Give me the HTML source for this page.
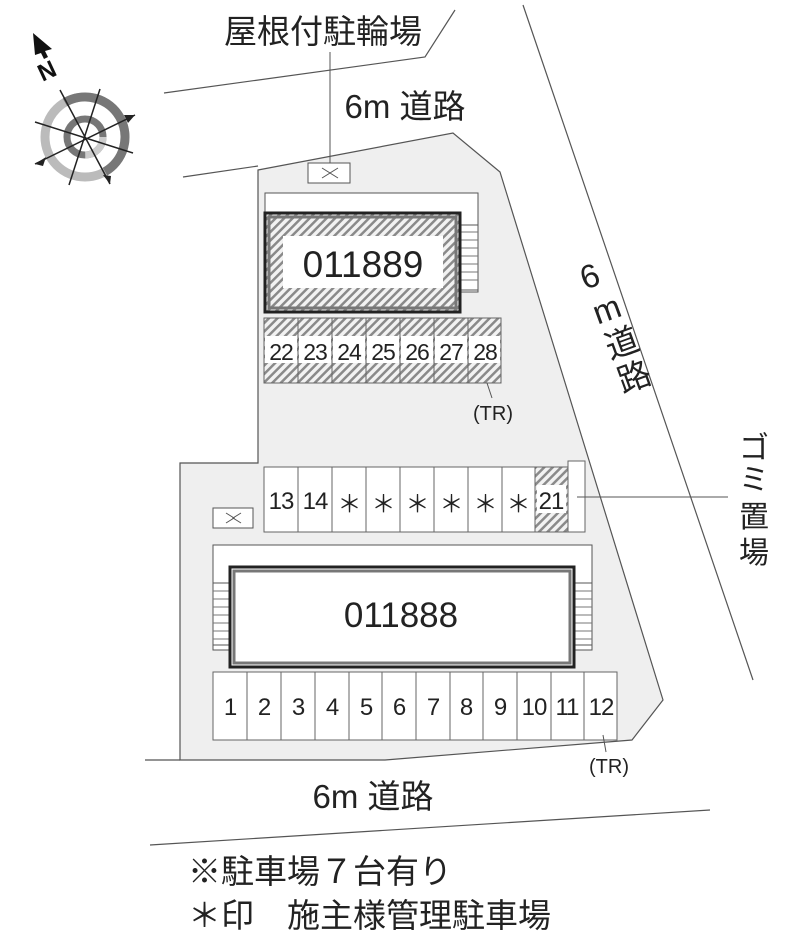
<!DOCTYPE html>
<html><head><meta charset="utf-8"><style>
body{margin:0;background:#fff;width:800px;height:940px;overflow:hidden}
svg text{font-family:"Liberation Sans","Noto Sans CJK JP",sans-serif;fill:#222}
</style></head><body>
<svg width="800" height="940" viewBox="0 0 800 940" xmlns="http://www.w3.org/2000/svg">
<defs>
<pattern id="h" width="6" height="6" patternUnits="userSpaceOnUse" patternTransform="rotate(45)">
<rect width="6" height="6" fill="#f2f2f2"/><rect width="2.5" height="6" fill="#8a8a8a"/></pattern>
</defs>
<polygon points="258,170 453,133 500,172 663,700 632,740 385,760 180,760 180,463 258,463" fill="#efefef" stroke="#555" stroke-width="1.2"/>
<polyline points="164,93 425,57 455,10" fill="none" stroke="#555" stroke-width="1.2"/>
<line x1="183" y1="177" x2="258" y2="166" stroke="#555" stroke-width="1.2"/>
<line x1="523" y1="5" x2="753" y2="680" stroke="#555" stroke-width="1.2"/>
<line x1="145" y1="760" x2="180" y2="760" stroke="#555" stroke-width="1.2"/>
<line x1="150" y1="845" x2="710" y2="810" stroke="#555" stroke-width="1.2"/>
<line x1="330" y1="52" x2="330" y2="170" stroke="#555"/>
<rect x="308" y="163" width="42" height="20" fill="#fff" stroke="#555"/>
<path d="M322,168 l8,5 l-8,5 M338,168 l-8,5 l8,5" stroke="#555" fill="none"/>
<rect x="213" y="508" width="40" height="20" fill="#fff" stroke="#555"/>
<path d="M226,513 l8,5 l-8,5 M241,513 l-8,5 l8,5" stroke="#555" fill="none"/>
<rect x="265" y="193" width="213" height="99" fill="#fff" stroke="#555"/>
<rect x="460" y="225" width="18" height="65" fill="#fff" stroke="#555"/>
<g stroke="#777"><line x1="460" y1="232" x2="478" y2="232"/><line x1="460" y1="240" x2="478" y2="240"/><line x1="460" y1="248" x2="478" y2="248"/><line x1="460" y1="256" x2="478" y2="256"/><line x1="460" y1="264" x2="478" y2="264"/><line x1="460" y1="272" x2="478" y2="272"/><line x1="460" y1="280" x2="478" y2="280"/></g>
<rect x="265" y="213" width="195" height="99" fill="url(#h)" stroke="#222" stroke-width="3"/>
<rect x="269" y="217" width="187" height="91" fill="none" stroke="#777" stroke-width="3"/>
<rect x="283" y="236" width="160" height="52" fill="#fff"/>
<text x="363" y="277" font-size="37" text-anchor="middle">011889</text>
<g stroke="#666" fill="url(#h)">
<rect x="264" y="318" width="34" height="65"/><rect x="298" y="318" width="34" height="65"/><rect x="332" y="318" width="34" height="65"/><rect x="366" y="318" width="34" height="65"/><rect x="400" y="318" width="34" height="65"/><rect x="434" y="318" width="34" height="65"/><rect x="468" y="318" width="33" height="65"/>
</g>
<g fill="#fff"><rect x="265" y="336" width="32" height="27"/><rect x="299" y="336" width="32" height="27"/><rect x="333" y="336" width="32" height="27"/><rect x="367" y="336" width="32" height="27"/><rect x="401" y="336" width="32" height="27"/><rect x="435" y="336" width="32" height="27"/><rect x="469" y="336" width="31" height="27"/></g>
<g font-size="23" text-anchor="middle" letter-spacing="-1"><text x="281" y="360">22</text><text x="315" y="360">23</text><text x="349" y="360">24</text><text x="383" y="360">25</text><text x="417" y="360">26</text><text x="451" y="360">27</text><text x="485" y="360">28</text></g>
<line x1="487" y1="383" x2="492" y2="398" stroke="#555"/>
<text x="493" y="420" font-size="20" text-anchor="middle">(TR)</text>
<g stroke="#666" fill="#fff">
<rect x="264" y="467" width="34" height="65"/><rect x="298" y="467" width="34" height="65"/><rect x="332" y="467" width="34" height="65"/><rect x="366" y="467" width="34" height="65"/><rect x="400" y="467" width="34" height="65"/><rect x="434" y="467" width="34" height="65"/><rect x="468" y="467" width="34" height="65"/><rect x="502" y="467" width="33" height="65"/>
<rect x="535" y="467" width="33" height="65" fill="url(#h)"/>
<rect x="568" y="461" width="17" height="71"/>
</g>
<rect x="537" y="485" width="29" height="28" fill="#fff"/>
<g font-size="24" text-anchor="middle" letter-spacing="-1"><text x="281" y="509">13</text><text x="315" y="509">14</text><text x="349" y="512">＊</text><text x="383" y="512">＊</text><text x="417" y="512">＊</text><text x="451" y="512">＊</text><text x="485" y="512">＊</text><text x="518" y="512">＊</text><text x="551" y="509">21</text></g>
<line x1="577" y1="497" x2="728" y2="497" stroke="#555"/>
<g font-size="30" text-anchor="middle"><text x="754" y="458">ゴ</text><text x="754" y="490">ミ</text><text x="754" y="527">置</text><text x="754" y="563">場</text></g>
<rect x="213" y="545" width="379" height="105" fill="#fff" stroke="#555"/>
<rect x="213" y="583" width="16" height="62" fill="#fff" stroke="#555"/>
<rect x="575" y="583" width="17" height="62" fill="#fff" stroke="#555"/>
<g stroke="#777"><path d="M213,591h16M213,599h16M213,607h16M213,615h16M213,623h16M213,631h16M213,639h16M575,591h17M575,599h17M575,607h17M575,615h17M575,623h17M575,631h17M575,639h17"/></g>
<rect x="230" y="567" width="344" height="100" fill="#fff" stroke="#222" stroke-width="3"/>
<rect x="234" y="571" width="336" height="92" fill="none" stroke="#777" stroke-width="3"/>
<text x="401" y="627" font-size="35" text-anchor="middle">011888</text>
<g stroke="#666" fill="#fff">
<rect x="213" y="672" width="34" height="68"/><rect x="247" y="672" width="34" height="68"/><rect x="281" y="672" width="34" height="68"/><rect x="315" y="672" width="34" height="68"/><rect x="349" y="672" width="33" height="68"/><rect x="382" y="672" width="34" height="68"/><rect x="416" y="672" width="34" height="68"/><rect x="450" y="672" width="33" height="68"/><rect x="483" y="672" width="34" height="68"/><rect x="517" y="672" width="34" height="68"/><rect x="551" y="672" width="33" height="68"/><rect x="584" y="672" width="33" height="68"/>
</g>
<g font-size="24" text-anchor="middle" letter-spacing="-1"><text x="230" y="715">1</text><text x="264" y="715">2</text><text x="298" y="715">3</text><text x="332" y="715">4</text><text x="366" y="715">5</text><text x="399" y="715">6</text><text x="433" y="715">7</text><text x="466" y="715">8</text><text x="500" y="715">9</text><text x="534" y="715">10</text><text x="567" y="715">11</text><text x="601" y="715">12</text></g>
<line x1="603" y1="735" x2="606" y2="752" stroke="#555"/>
<text x="609" y="773" font-size="20" text-anchor="middle">(TR)</text>
<text x="323" y="43" font-size="33" text-anchor="middle">屋根付駐輪場</text>
<text x="405" y="118" font-size="33" text-anchor="middle">6m 道路</text>
<text x="373" y="808" font-size="33" text-anchor="middle">6m 道路</text>
<g transform="translate(585,290) rotate(-20)" font-size="33"><text x="0" y="0">6</text><text x="0" y="37">m</text><text x="0" y="74">道</text><text x="0" y="110">路</text></g>
<text x="188" y="883" font-size="33">※駐車場７台有り</text>
<text x="188" y="927" font-size="33">＊印　施主様管理駐車場</text>
<g transform="translate(85,137)">
<circle r="40" fill="none" stroke="#bbb" stroke-width="9"/>
<path d="M0,-40 A40,40 0 0 1 40,0 A40,40 0 0 1 0,40" fill="none" stroke="#777" stroke-width="9" transform="rotate(-30)"/>
<circle r="18" fill="none" stroke="#777" stroke-width="7"/>
<circle r="18" fill="none" stroke="#ccc" stroke-width="7" stroke-dasharray="28 85"/>
<g stroke="#222" stroke-width="1.5">
<line x1="-25" y1="-47" x2="25" y2="47"/><line x1="-50" y1="27" x2="50" y2="-22"/><line x1="-50" y1="-15" x2="48" y2="16"/><line x1="-16" y1="48" x2="15" y2="-48"/>
</g>
<polygon points="50,-22 39,-22 43,-14" fill="#222"/>
<polygon points="-50,27 -39,20 -42,29" fill="#222"/>
<polygon points="25,47 18,38 26,39" fill="#222"/>
<polygon points="-52,-104 -33,-88 -40,-86 -37,-80 -41,-78 -44,-84 -50,-82" fill="#111"/>
<text x="-38" y="-58" font-size="24" font-weight="bold" transform="rotate(-25,-38,-66)" style="fill:#111" text-anchor="middle">N</text>
</g>
</svg>
</body></html>
